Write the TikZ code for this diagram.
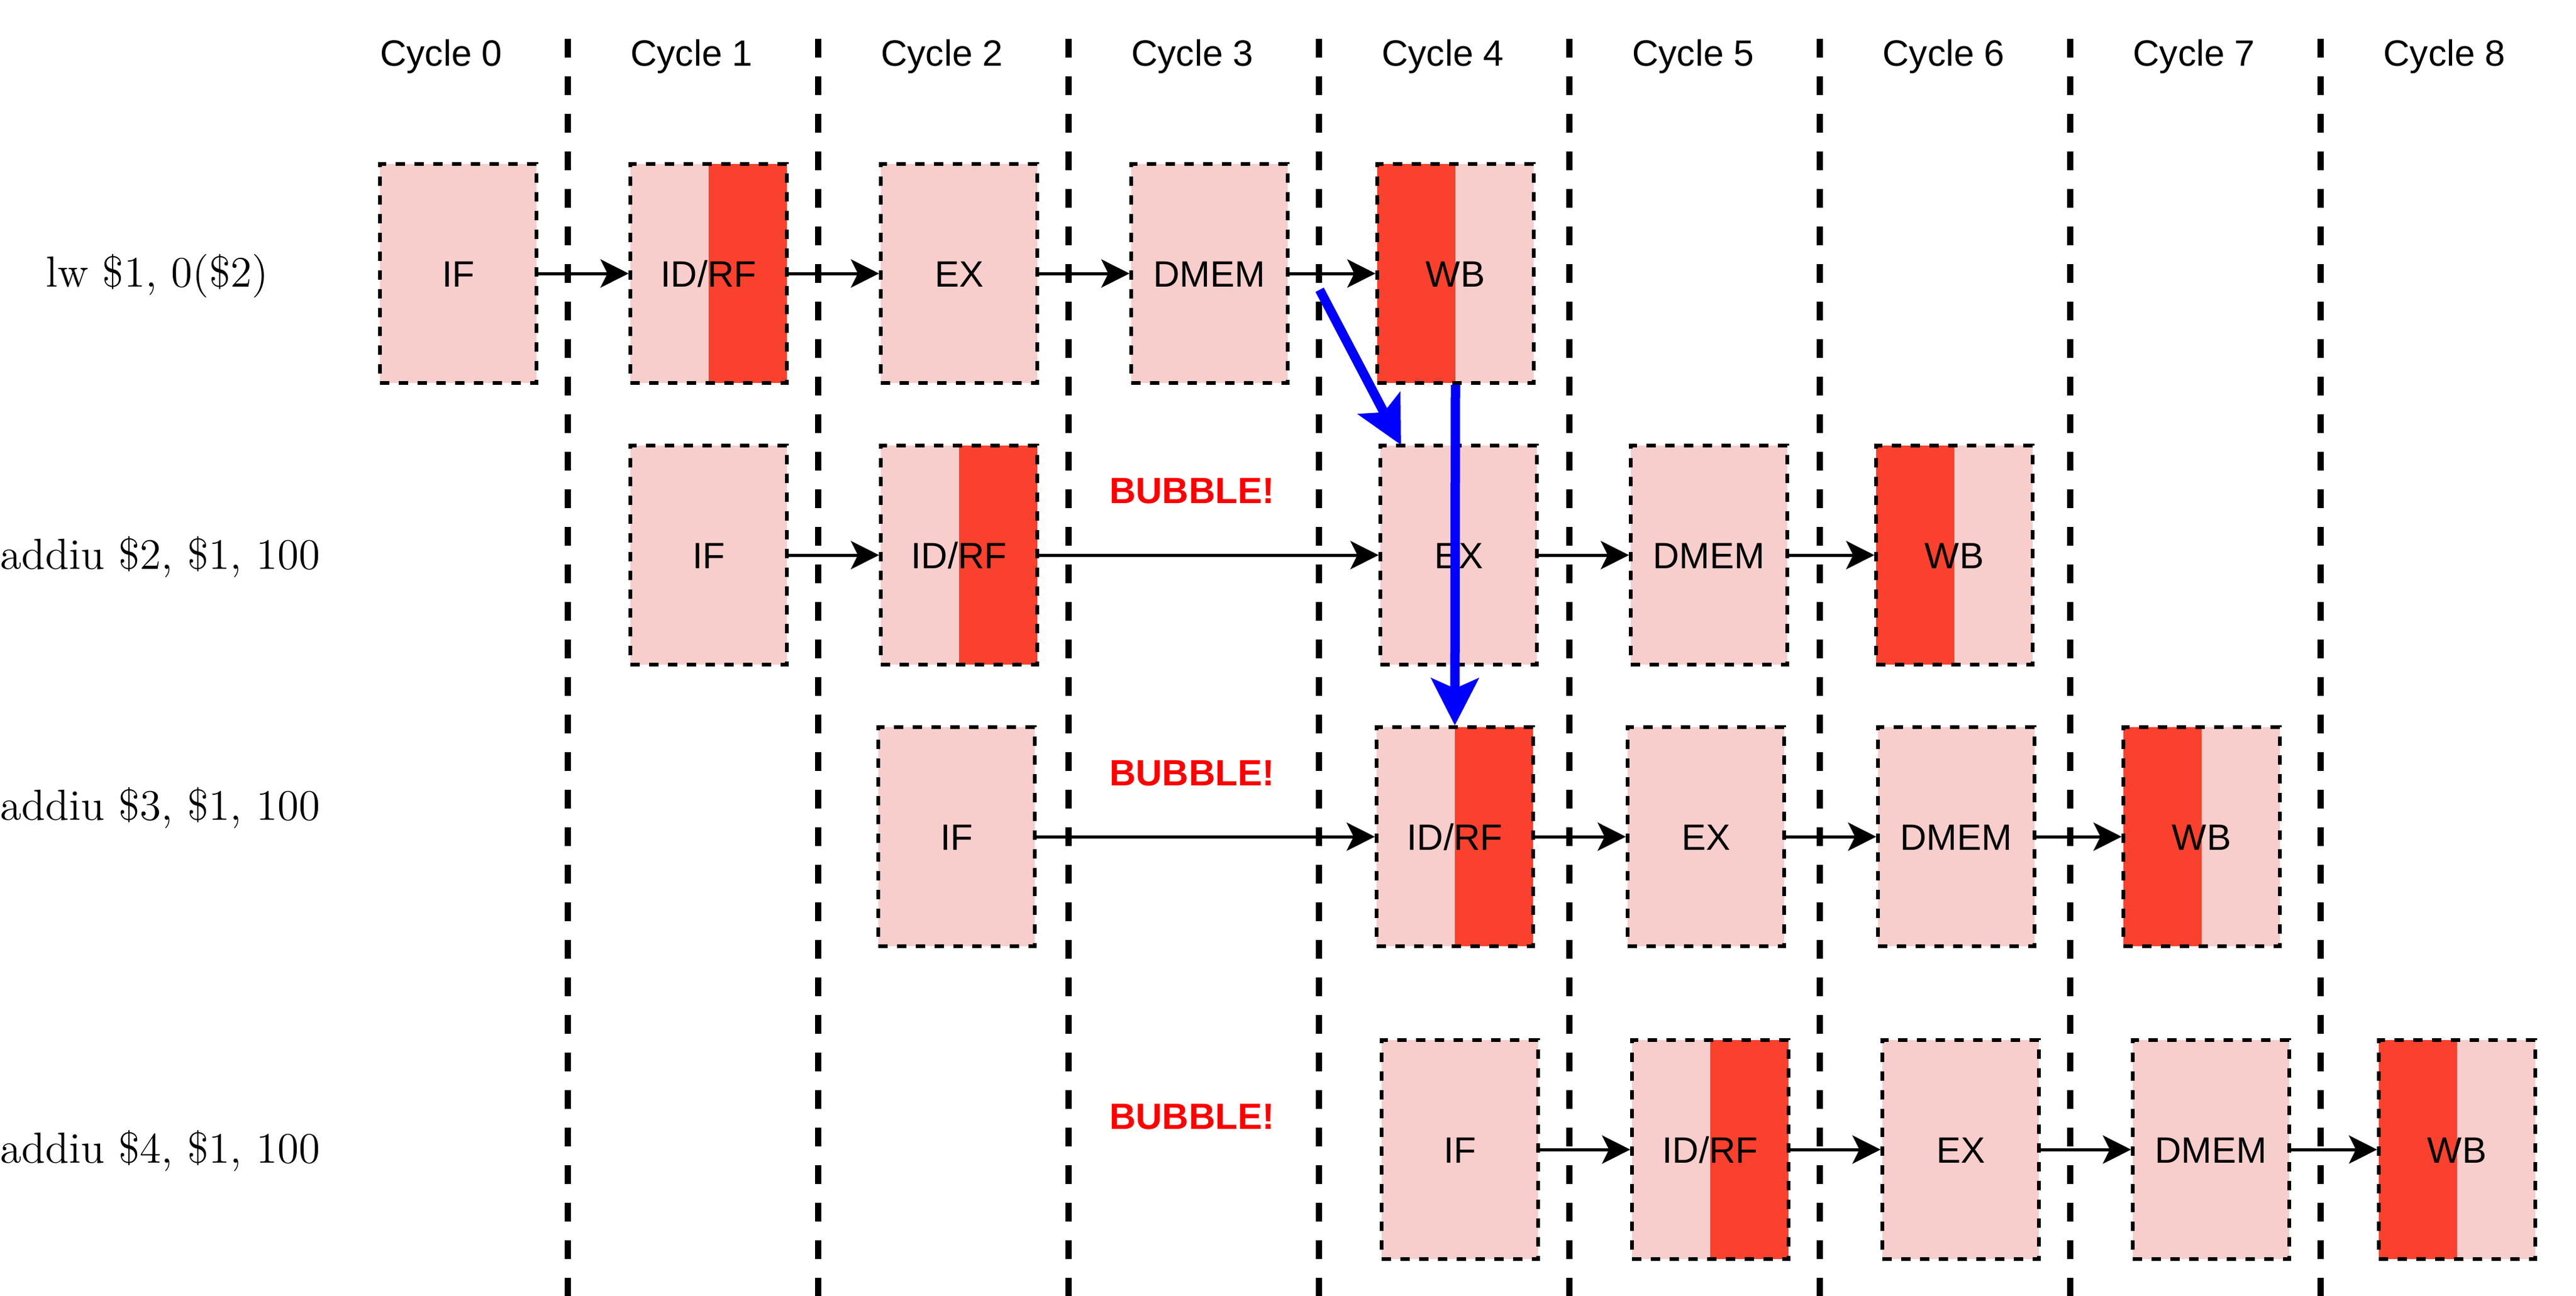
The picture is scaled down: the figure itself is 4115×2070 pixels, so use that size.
\documentclass[tikz,border=0pt]{standalone}
\usepackage{fontspec}
\newfontfamily\arialfont{Liberation Sans}
\usetikzlibrary{arrows.meta}
\definecolor{pinkfill}{HTML}{F8CECC}
\definecolor{redhalf}{RGB}{250,65,45}
\definecolor{fwdblue}{HTML}{0000FF}
\definecolor{bubred}{HTML}{FF0000}
\tikzset{
  stagebox/.style={minimum width=50pt, minimum height=70pt, inner sep=0pt,
    fill=pinkfill, draw=black, line width=1.1pt, dash pattern=on 3pt off 3pt,
    font=\arialfont\fontsize{11.7}{14}\selectfont, text height=8.4pt, text depth=0pt},
  redright/.style={path picture={\fill[redhalf] (path picture bounding box.north) rectangle (path picture bounding box.south east);}},
  redleft/.style={path picture={\fill[redhalf] (path picture bounding box.north west) rectangle (path picture bounding box.south);}},
  cyclesep/.style={line width=2pt, dash pattern=on 6pt off 6pt},
  flow/.style={line width=1pt, -{Stealth[length=9pt,width=9pt,inset=2.2pt]}},
  fwd/.style={draw=fwdblue, line width=3pt, -{Stealth[length=15pt,width=15pt,inset=3.2pt]}},
  cyclelbl/.style={anchor=base, font=\arialfont\fontsize{11.7}{14}\selectfont, inner sep=0pt},
  instr/.style={anchor=base, font=\fontsize{13.9}{16}\selectfont, inner sep=0pt},
  bubble/.style={anchor=base, text=bubred, font=\arialfont\bfseries\fontsize{11.7}{14}\selectfont, inner sep=0pt},
}
\begin{document}
\begin{tikzpicture}[x=0.2pt, y=-0.2pt]
\useasboundingbox (0,0) rectangle (4115,2070);

% cycle separators
\foreach \k in {0,...,7}
  \draw[cyclesep] ({907+400*\k},62) -- ({907+400*\k},2075);

% cycle labels
\foreach \k in {0,...,8}
  \node[cyclelbl] (cyc\k) at ({705+400*\k},105) {Cycle \k};

% instruction labels
\node[instr] (ins1) at (251,458) {lw \$1, 0(\$2)};
\node[instr] (ins2) at (256,909) {addiu \$2, \$1, 100};
\node[instr] (ins3) at (256,1310) {addiu \$3, \$1, 100};
\node[instr] (ins4) at (256,1858) {addiu \$4, \$1, 100};

% bubbles
\node[bubble] (bub2) at (1904,804) {BUBBLE!};
\node[bubble] (bub3) at (1904,1255) {BUBBLE!};
\node[bubble] (bub4) at (1904,1804) {BUBBLE!};

% row 1
\node[stagebox] (if1) at (732,437) {IF};
\node[stagebox, redright] (id1) at (1132,437) {ID/RF};
\node[stagebox] (ex1) at (1532,437) {EX};
\node[stagebox] (mem1) at (1932,437) {DMEM};
\node[stagebox, redleft] (wb1) at (2325,437) {WB};

% row 2
\node[stagebox] (if2) at (1132,887) {IF};
\node[stagebox, redright] (id2) at (1532,887) {ID/RF};
\node[stagebox] (ex2) at (2330,887) {EX};
\node[stagebox] (mem2) at (2730,887) {DMEM};
\node[stagebox, redleft] (wb2) at (3122,887) {WB};

% row 3
\node[stagebox] (if3) at (1528,1337) {IF};
\node[stagebox, redright] (id3) at (2324,1337) {ID/RF};
\node[stagebox] (ex3) at (2725,1337) {EX};
\node[stagebox] (mem3) at (3125,1337) {DMEM};
\node[stagebox, redleft] (wb3) at (3517,1337) {WB};

% row 4
\node[stagebox] (if4) at (2332,1837) {IF};
\node[stagebox, redright] (id4) at (2732,1837) {ID/RF};
\node[stagebox] (ex4) at (3132,1837) {EX};
\node[stagebox] (mem4) at (3532,1837) {DMEM};
\node[stagebox, redleft] (wb4) at (3925,1837) {WB};

% pipeline flow arrows
\foreach \r in {1,2,3,4} {
  \draw[flow] (if\r.east) -- (id\r.west);
  \draw[flow] (id\r.east) -- (ex\r.west);
  \draw[flow] (ex\r.east) -- (mem\r.west);
  \draw[flow] (mem\r.east) -- (wb\r.west);
}

% forwarding arrows
\coordinate (fwdS) at (2108,463);
\coordinate (fwdE) at (2238,711);
\draw[fwd] (fwdS) -- (fwdE);
\draw[fwd] (wb1.south) -- (id3.north);
\end{tikzpicture}
\end{document}
